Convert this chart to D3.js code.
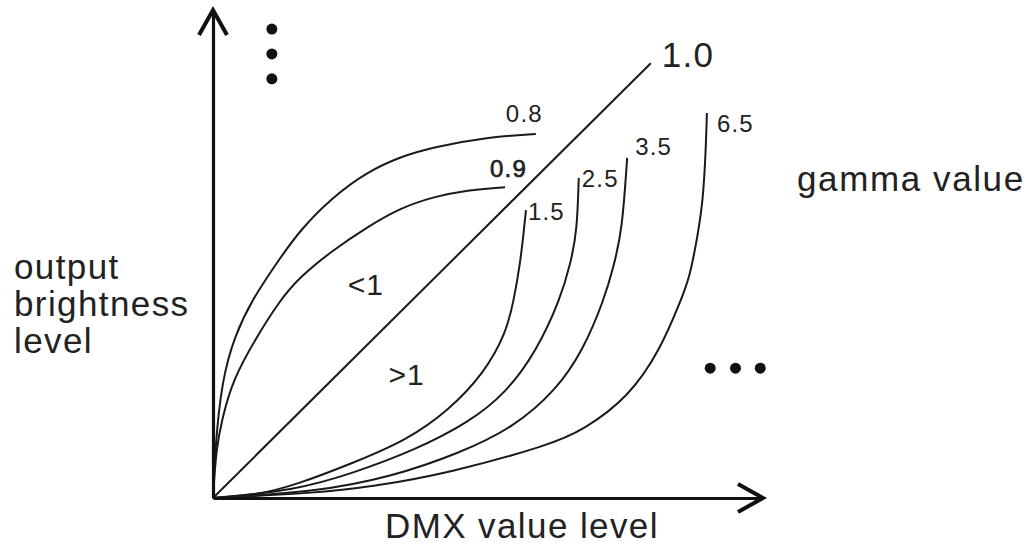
<!DOCTYPE html>
<html>
<head>
<meta charset="utf-8">
<script src="https://cdn.jsdelivr.net/npm/d3@7"></script>
<style>
  html, body { margin: 0; padding: 0; background: #fff; }
  svg { display: block; }
  text { font-family: "Liberation Sans", Arial, Helvetica, sans-serif; fill: #222; }
</style>
</head>
<body>
<svg id="chart" width="1032" height="548"></svg>
<script>
// ---- data (x = DMX value level, y = output brightness, both 0..100 of axis length) ----
const gammaLabels = ["0.8", "0.9", "1.0", "1.5", "2.5", "3.5", "6.5"];

const curve08 = [[0,0],[0.36,9.8],[1.6,24.2],[4.0,33.4],[7.1,40.6],[11.6,48.2],[15.8,54.9],[21.8,61.7],[28.0,66.8],[34.0,69.9],[40.0,71.9],[50.4,74.0],[58.7,74.6]];
const curve09 = [[0,0],[0.55,9.8],[1.6,16.0],[3.6,24.2],[7.6,32.4],[12.2,40.6],[15.8,45.3],[21.8,50.8],[28.0,55.5],[34.0,59.4],[40.0,61.7],[46.2,63.1],[53.1,63.7]];
const curve10 = [[0,0],[79.6,89.1]];
const curve15 = [[0,0],[8.0,0.6],[15.1,2.7],[25.5,7.2],[35.3,11.9],[42.9,18.0],[49.3,25.6],[53.3,33.8],[54.7,40.6],[55.8,47.7],[56.5,54.5],[56.9,59.0]];
const curve25 = [[0,0],[15.1,1.6],[25.5,5.1],[36.7,9.8],[46.4,15.4],[53.3,21.5],[58.9,30.3],[63.1,40.6],[65.1,48.4],[66.2,54.9],[66.5,65.6]];
const curve35 = [[0,0],[18.5,1.2],[32.4,4.3],[44.9,9.2],[54.7,14.5],[62.4,22.1],[67.3,30.3],[71.1,40.6],[72.9,47.7],[74.4,54.9],[75.3,69.7]];
const curve65 = [[0,0],[18.5,1.0],[28.9,2.3],[42.9,5.1],[61.3,10.9],[67.3,13.9],[75.6,20.7],[81.3,30.3],[85.1,40.6],[86.7,45.3],[88.2,54.3],[89.1,61.1],[89.6,71.3],[89.8,78.9]];

const vDots = [[10.7, 96.1], [10.7, 91.0], [10.7, 85.9]];
const hDots = [[90.4, 26.6], [95.0, 26.6], [99.5, 26.6]];

const regionLabels = ["<1", ">1"];
const regionPoints = [[24.5, 41.6], [31.9, 23.2]];
const xTitle = "DMX value level";
const yTitle = ["output", "brightness", "level"];
const legendTitle = "gamma value";

// ---- layout ----
const svg = d3.select("#chart");
const x = d3.scaleLinear().domain([0, 100]).range([213, 763]);
const y = d3.scaleLinear().domain([0, 100]).range([498, 10]);

const series = [curve08, curve09, curve10, curve15, curve25, curve35, curve65];
const labelOffsets = [[-30, -12], [-15, -10], [11, 4], [2, 10], [3, 9], [8, -3], [10, 19]];
const labelSizes = [24, 24, 35, 24, 24, 24, 24];

const line = d3.line().x(d => x(d[0])).y(d => y(d[1])).curve(d3.curveBasis);

// curves
svg.append("g").selectAll("path").data(series).join("path")
  .attr("d", line)
  .attr("fill", "none")
  .attr("stroke", "#1a1a1a")
  .attr("stroke-width", 2)
  .attr("stroke-linecap", "butt");

// axes
const xAxis = d3.axisBottom(x).ticks(0).tickSizeOuter(0);
const yAxis = d3.axisLeft(y).ticks(0).tickSizeOuter(0);
const gx = svg.append("g").attr("transform", `translate(0,${y(0)})`).call(xAxis);
const gy = svg.append("g").attr("transform", `translate(${x(0)},0)`).call(yAxis);
[gx, gy].forEach(g => g.select(".domain").attr("stroke", "#111").attr("stroke-width", 3.2));

// arrowheads
const tipX = [x(100), y(0)], tipY = [x(0), y(100)];
svg.append("polyline")
  .attr("points", [[tipX[0] - 25, tipX[1] - 14], tipX, [tipX[0] - 25, tipX[1] + 14]].map(p => p.join(",")).join(" "))
  .attr("fill", "none").attr("stroke", "#111").attr("stroke-width", 4).attr("stroke-linejoin", "miter");
svg.append("polyline")
  .attr("points", [[tipY[0] - 14, tipY[1] + 25], tipY, [tipY[0] + 14, tipY[1] + 25]].map(p => p.join(",")).join(" "))
  .attr("fill", "none").attr("stroke", "#111").attr("stroke-width", 4).attr("stroke-linejoin", "miter");

// ellipsis dots
svg.append("g").selectAll("circle").data(vDots.concat(hDots)).join("circle")
  .attr("cx", d => x(d[0])).attr("cy", d => y(d[1])).attr("r", 5.5).attr("fill", "#111");

// gamma labels at curve ends
svg.append("g").selectAll("text").data(gammaLabels).join("text")
  .attr("x", (d, i) => { const s = series[i]; return x(s[s.length - 1][0]) + labelOffsets[i][0]; })
  .attr("y", (d, i) => { const s = series[i]; return y(s[s.length - 1][1]) + labelOffsets[i][1]; })
  .attr("font-size", (d, i) => labelSizes[i])
  .attr("letter-spacing", 1.2)
  .attr("stroke", (d, i) => i === 1 ? "#222" : "none")
  .attr("stroke-width", 0.7)
  .text(d => d);

// region labels
svg.append("g").selectAll("text").data(regionLabels).join("text")
  .attr("x", (d, i) => x(regionPoints[i][0]))
  .attr("y", (d, i) => y(regionPoints[i][1]))
  .attr("font-size", 30)
  .attr("letter-spacing", 1)
  .text(d => d);

// titles
svg.append("text").attr("x", 385).attr("y", 538).attr("font-size", 35).attr("letter-spacing", 1.4).text(xTitle);
svg.append("text").attr("x", 797).attr("y", 191).attr("font-size", 35).attr("letter-spacing", 1.6).text(legendTitle);
svg.append("g").selectAll("text").data(yTitle).join("text")
  .attr("x", 14).attr("y", (d, i) => 279 + i * 37)
  .attr("font-size", 35).attr("letter-spacing", 1.4)
  .text(d => d);
</script>
</body>
</html>
